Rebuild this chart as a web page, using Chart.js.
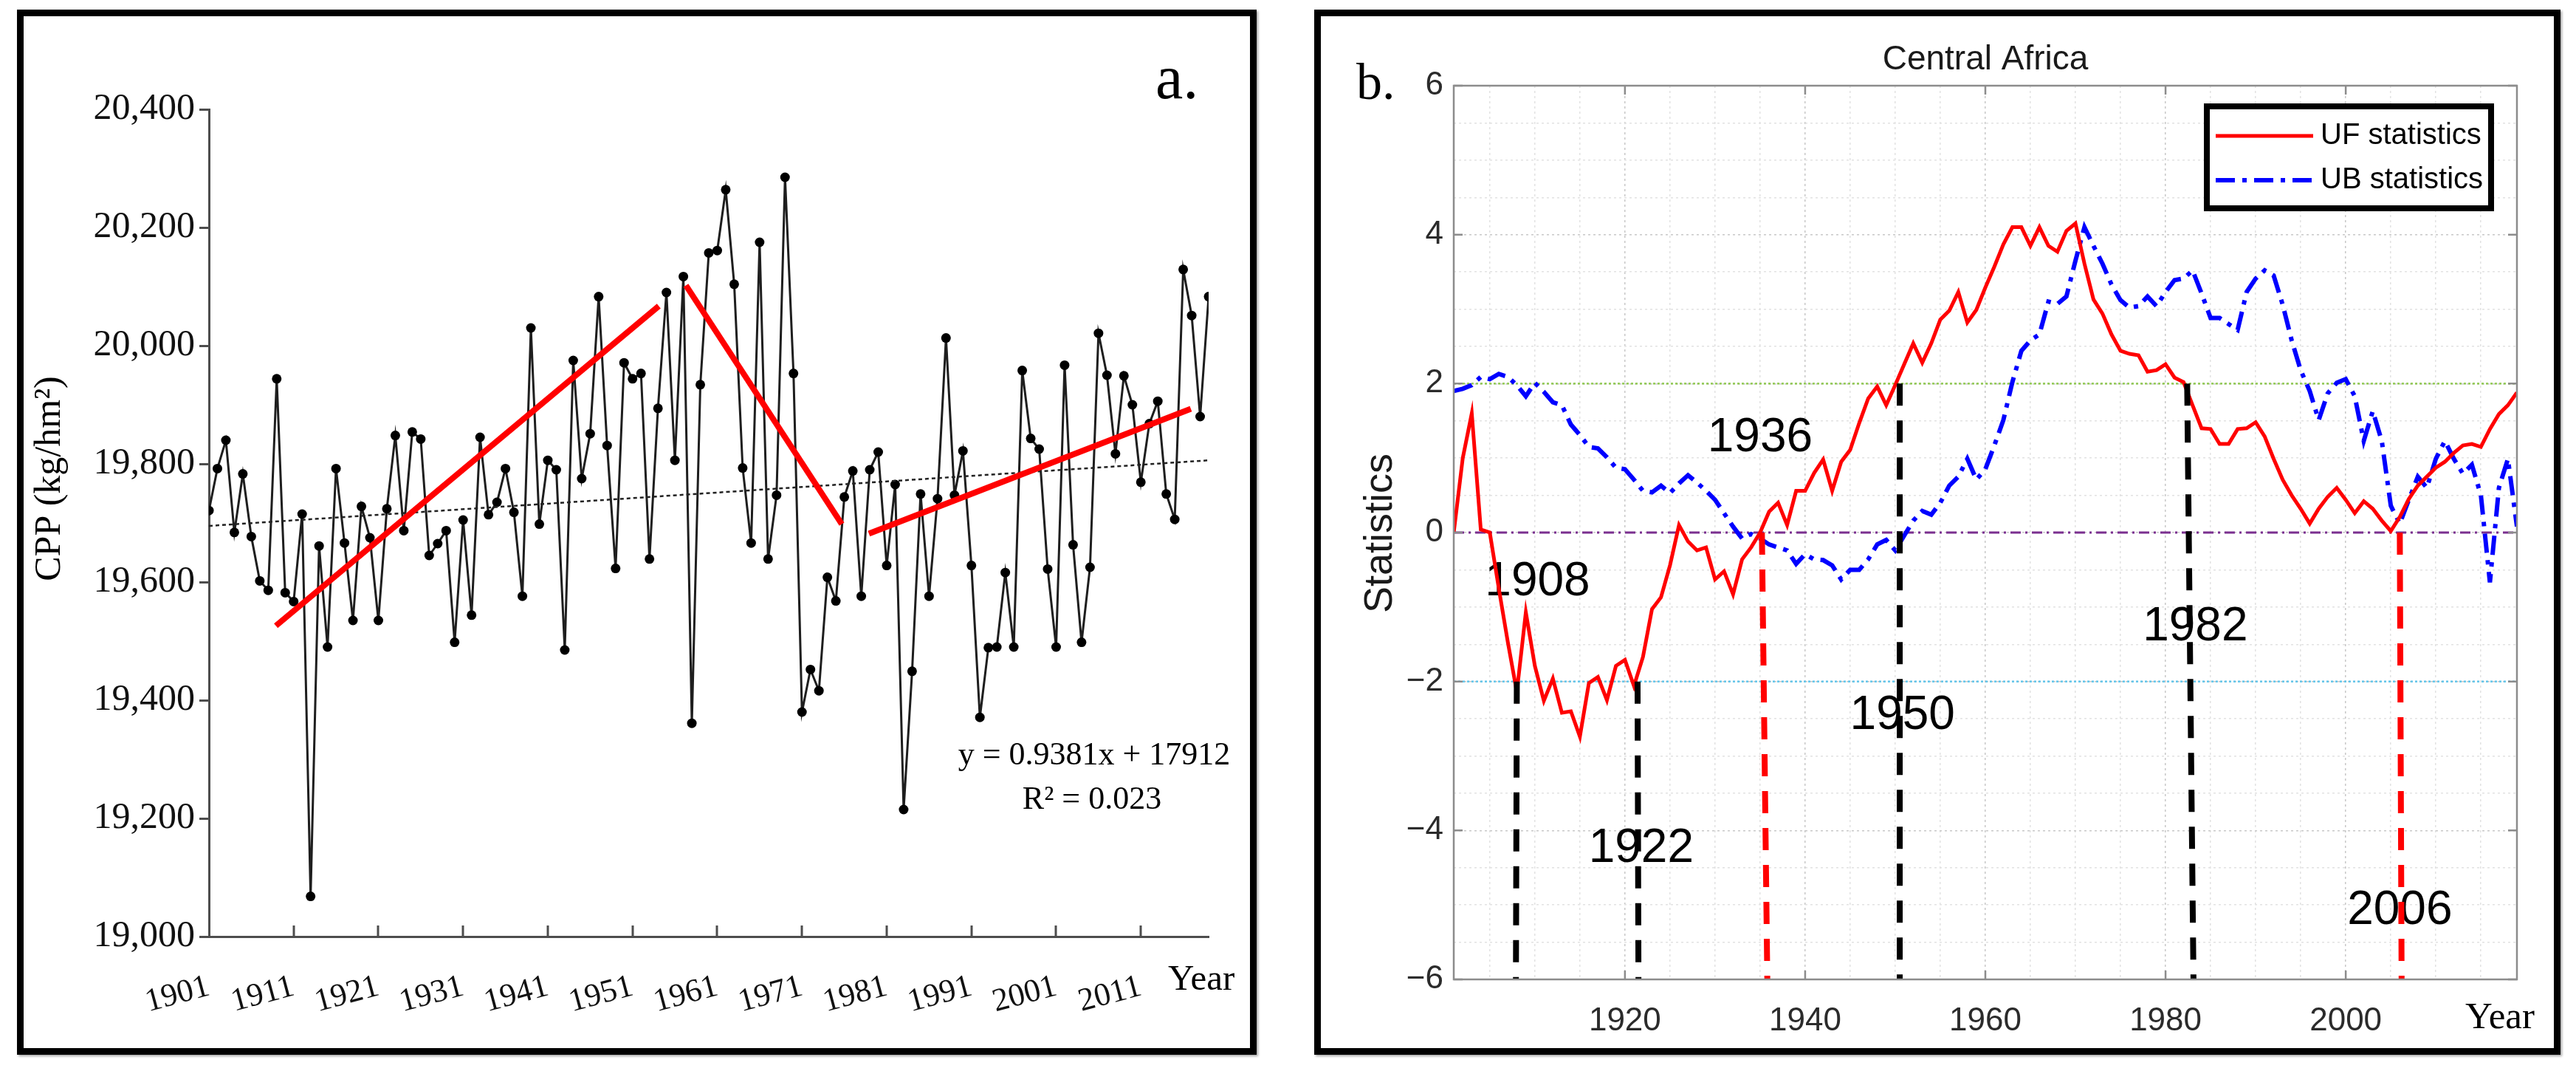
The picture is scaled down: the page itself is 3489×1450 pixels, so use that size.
<!DOCTYPE html>
<html>
<head>
<meta charset="utf-8">
<script src="https://cdn.jsdelivr.net/npm/chart.js@4.4.1/dist/chart.umd.min.js"></script>
<style>
html, body { margin: 0; padding: 0; background: #fff; }
body { width: 3489px; height: 1450px; position: relative; overflow: hidden; }
.panel { position: absolute; top: 13px; border: 9px solid #000; background: #fff; box-shadow: 2px 2px 3px rgba(0,0,0,0.35); }
#boxA { left: 23px; width: 1661px; height: 1397px; }
#boxB { left: 1780px; width: 1670px; height: 1397px; }
canvas { display: block; }
</style>
</head>
<body>
<div class="panel" id="boxA"><canvas id="chartA" width="1661" height="1397" style="width:1661px;height:1397px"></canvas></div>
<div class="panel" id="boxB"><canvas id="chartB" width="1670" height="1397" style="width:1670px;height:1397px"></canvas></div>
<script>
// ---- 数据 (a): 1901-2019 CPP ----
const firstYear = 1901;
const lastYear = 2019;
const years = Array.from({ length: lastYear - firstYear + 1 }, (_, i) => firstYear + i);

const cppValues = [
  19721, 19792, 19840, 19684, 19783, 19677, 19602, 19586, 19944, 19582,
  19567, 19715, 19068, 19661, 19490, 19792, 19666, 19535, 19728, 19675,
  19535, 19724, 19848, 19687, 19854, 19842, 19645, 19665, 19687, 19498,
  19705, 19544, 19845, 19714, 19735, 19792, 19718, 19576, 20030, 19698,
  19806, 19790, 19485, 19975, 19775, 19851, 20083, 19831, 19623, 19971,
  19944, 19953, 19639, 19894, 20090, 19806, 20117, 19361, 19934, 20157,
  20161, 20264, 20104, 19793, 19666, 20175, 19639, 19747, 20285, 19953,
  19380, 19452, 19416, 19608, 19568, 19744, 19788, 19576, 19790, 19820,
  19628, 19765, 19215, 19449, 19749, 19576, 19741, 20013, 19747, 19822,
  19628, 19371, 19489, 19490, 19616, 19490, 19958, 19843, 19825, 19622,
  19490, 19967, 19663, 19498, 19625, 20021, 19950, 19817, 19949, 19900,
  19769, 19868, 19906, 19749, 19706, 20129, 20051, 19880, 20083
];
const cppTrendYears = [1901, 2019];
const cppTrendValues = [19695, 19806];
// 分段趋势线 (红色)
const segStartYear = [1908.9, 1957.3, 1978.9];
const segStartValue = [19526, 20102, 19682];
const segEndYear = [1954.1, 1975.7, 2016.9];
const segEndValue = [20067, 19698, 19893];
const cppTickYears = [1901, 1911, 1921, 1931, 1941, 1951, 1961, 1971, 1981, 1991, 2001, 2011];
const cppTickValues = [19000, 19200, 19400, 19600, 19800, 20000, 20200, 20400];

// ---- 数据 (b): M-K 检验 ----
const ufValues = [
  0.00, 1.00, 1.60, 0.04, 0.00, -0.75, -1.47, -2.14, -1.07, -1.79,
  -2.26, -1.96, -2.42, -2.40, -2.74, -2.02, -1.94, -2.25, -1.79, -1.71,
  -2.06, -1.67, -1.03, -0.87, -0.44, 0.10, -0.12, -0.24, -0.20, -0.63,
  -0.52, -0.83, -0.36, -0.20, 0.00, 0.28, 0.40, 0.10, 0.56, 0.56,
  0.80, 0.98, 0.56, 0.95, 1.11, 1.47, 1.80, 1.96, 1.71, 1.98,
  2.26, 2.54, 2.28, 2.54, 2.86, 2.98, 3.23, 2.82, 2.99, 3.29,
  3.57, 3.87, 4.10, 4.10, 3.85, 4.10, 3.85, 3.77, 4.05, 4.15,
  3.61, 3.13, 2.94, 2.66, 2.44, 2.40, 2.38, 2.16, 2.18, 2.26,
  2.08, 2.02, 1.71, 1.40, 1.39, 1.19, 1.19, 1.39, 1.40, 1.48,
  1.29, 0.99, 0.71, 0.50, 0.32, 0.12, 0.32, 0.48, 0.60, 0.44,
  0.26, 0.42, 0.32, 0.16, 0.02, 0.21, 0.45, 0.63, 0.75, 0.87,
  0.95, 1.07, 1.17, 1.19, 1.15, 1.39, 1.59, 1.71, 1.88
];
const ubValues = [
  1.90, 1.93, 1.98, 2.09, 2.06, 2.13, 2.09, 1.98, 1.83, 2.01,
  1.89, 1.75, 1.71, 1.45, 1.31, 1.15, 1.13, 1.01, 0.87, 0.85,
  0.71, 0.56, 0.54, 0.63, 0.53, 0.66, 0.77, 0.67, 0.56, 0.44,
  0.26, 0.08, -0.08, -0.02, -0.08, -0.16, -0.20, -0.24, -0.42, -0.29,
  -0.36, -0.37, -0.44, -0.63, -0.50, -0.50, -0.36, -0.16, -0.10, -0.24,
  -0.04, 0.16, 0.29, 0.24, 0.40, 0.63, 0.75, 0.99, 0.71, 0.85,
  1.17, 1.51, 2.02, 2.44, 2.58, 2.66, 3.10, 3.07, 3.17, 3.65,
  4.10, 3.85, 3.61, 3.33, 3.12, 3.02, 3.04, 3.17, 3.04, 3.23,
  3.39, 3.41, 3.52, 3.21, 2.88, 2.88, 2.80, 2.72, 3.23, 3.41,
  3.52, 3.45, 3.06, 2.58, 2.18, 1.90, 1.51, 1.87, 2.01, 2.06,
  1.83, 1.23, 1.63, 1.23, 0.36, 0.12, 0.44, 0.75, 0.60, 0.99,
  1.23, 0.99, 0.79, 0.91, 0.50, -0.67, 0.60, 0.99, 0.08
];
const refLevels = [2, 0, -2];
// 突变点
const changeLabels = ['1908', '1922', '1936', '1950', '1982', '2006'];
const changeTopYear = [1908.0, 1921.4, 1935.2, 1950.5, 1982.4, 2006.0];
const changeBottomYear = [1907.9, 1921.5, 1935.8, 1950.5, 1983.1, 2006.2];
const changeTopValue = [-2, -2, 0, 2, 2, 0];
const changeLabelYear = [1910.3, 1921.8, 1935.0, 1950.8, 1983.3, 2006.0];
const changeLabelValue = [-0.67, -4.25, 1.27, -2.46, -1.27, -5.08];
const statTickYears = [1920, 1940, 1960, 1980, 2000];
const statTickValues = [-6, -4, -2, 0, 2, 4, 6];

// ---- 样式 ----
const SERIF = "'Liberation Serif', 'Times New Roman', serif";
const SANS = "'Liberation Sans', Arial, sans-serif";
const changeColors = ['#000', '#000', '#ff0000', '#000', '#000', '#ff0000'];
const refColors = ['#92c955', '#7a2f8f', '#63c5ea'];
const refDash = [[3, 3], [14, 6, 3, 6], [3, 3]];

// 通用文字插件
const panelText = {
  id: 'panelText',
  beforeDatasetsDraw(chart, args, opts) { drawTexts(chart, (opts.items || []).filter(t => t.under)); },
  afterDraw(chart, args, opts) { drawTexts(chart, (opts.items || []).filter(t => !t.under)); }
};
function drawTexts(chart, items) {
  const ctx = chart.ctx;
  const area = chart.chartArea;
  items.forEach(t => {
    let x, y;
    if (t.data) {
      x = chart.scales.x.getPixelForValue(t.data[0]);
      y = chart.scales.y.getPixelForValue(t.data[1]);
    } else {
      x = t.cx ? (area.left + area.right) / 2 : t.x;
      y = t.y;
    }
    ctx.save();
    ctx.font = t.font;
    ctx.fillStyle = t.color || '#000';
    ctx.textAlign = t.align || 'center';
    ctx.textBaseline = t.baseline || 'middle';
    ctx.translate(x, y);
    if (t.rotate) ctx.rotate(t.rotate);
    ctx.fillText(t.text, 0, 0);
    ctx.restore();
  });
}

// (a) x 轴向内刻度
const innerTicksA = {
  id: 'innerTicksA',
  afterDraw(chart) {
    const { ctx, chartArea } = chart;
    const xs = chart.scales.x;
    ctx.save();
    ctx.strokeStyle = '#4d4d4d';
    ctx.lineWidth = 3;
    cppTickYears.slice(1).forEach(v => {
      const px = Math.round(xs.getPixelForValue(v));
      ctx.beginPath();
      ctx.moveTo(px, chartArea.bottom);
      ctx.lineTo(px, chartArea.bottom - 15);
      ctx.stroke();
    });
    ctx.restore();
  }
};

// (b) 边框与刻度
const frameB = {
  id: 'frameB',
  afterDraw(chart) {
    const { ctx, chartArea: a } = chart;
    const xs = chart.scales.x, ys = chart.scales.y;
    ctx.save();
    ctx.strokeStyle = '#8c8c8c';
    ctx.lineWidth = 2.5;
    ctx.strokeRect(a.left, a.top, a.right - a.left, a.bottom - a.top);
    ctx.beginPath();
    statTickYears.forEach(v => {
      const px = xs.getPixelForValue(v);
      ctx.moveTo(px, a.bottom); ctx.lineTo(px, a.bottom - 12);
      ctx.moveTo(px, a.top); ctx.lineTo(px, a.top + 12);
    });
    statTickValues.forEach(v => {
      const py = ys.getPixelForValue(v);
      ctx.moveTo(a.left, py); ctx.lineTo(a.left + 12, py);
      ctx.moveTo(a.right, py); ctx.lineTo(a.right - 12, py);
    });
    ctx.stroke();
    ctx.restore();
  }
};

// (b) 图例
const legendB = {
  id: 'legendB',
  afterDraw(chart) {
    const { ctx, chartArea: a } = chart;
    const w = 393, h = 146;
    const x = a.right - 31 - w, y = a.top + 24;
    ctx.save();
    ctx.fillStyle = '#fff';
    ctx.fillRect(x, y, w, h);
    ctx.lineWidth = 8;
    ctx.strokeStyle = '#000';
    ctx.strokeRect(x + 4, y + 4, w - 8, h - 8);
    [0, 1].forEach((i, row) => {
      const ds = chart.data.datasets[i];
      const ly = y + 44 + row * 60;
      ctx.strokeStyle = ds.borderColor;
      ctx.lineWidth = ds.borderWidth;
      ctx.setLineDash(ds.borderDash || []);
      ctx.beginPath();
      ctx.moveTo(x + 16, ly);
      ctx.lineTo(x + 148, ly);
      ctx.stroke();
      ctx.setLineDash([]);
      ctx.fillStyle = '#000';
      ctx.font = '40px ' + SANS;
      ctx.textAlign = 'left';
      ctx.textBaseline = 'middle';
      ctx.fillText(ds.label, x + 158, ly);
    });
    ctx.restore();
  }
};

// ---- 图 (a) ----
const cppPoints = years.map((yr, i) => ({ x: yr, y: cppValues[i] }));
const segDatasets = segStartYear.map((s, i) => ({
  label: 'segment ' + (i + 1),
  data: [{ x: s, y: segStartValue[i] }, { x: segEndYear[i], y: segEndValue[i] }],
  borderColor: '#ff0000',
  borderWidth: 8,
  pointRadius: 0,
  order: 0
}));

new Chart(document.getElementById('chartA'), {
  type: 'line',
  data: {
    datasets: [
      ...segDatasets,
      {
        label: 'trend',
        data: cppTrendYears.map((yr, i) => ({ x: yr, y: cppTrendValues[i] })),
        borderColor: '#222',
        borderWidth: 2.5,
        borderDash: [5, 4],
        pointRadius: 0,
        order: 1
      },
      {
        label: 'CPP',
        data: cppPoints,
        borderColor: '#1e1e1e',
        borderWidth: 3,
        pointRadius: 6.5,
        pointBackgroundColor: '#000',
        pointBorderWidth: 0,
        tension: 0,
        order: 2
      }
    ]
  },
  options: {
    responsive: false,
    animation: false,
    devicePixelRatio: 1,
    events: [],
    layout: { padding: { top: 126, right: 56, left: 0, bottom: 0 } },
    scales: {
      x: {
        type: 'linear',
        min: firstYear,
        max: lastYear,
        afterBuildTicks: (scale) => { scale.ticks = cppTickYears.map(v => ({ value: v })); },
        afterFit: (scale) => { scale.height = 151; },
        grid: { display: false },
        border: { display: true, color: '#4d4d4d', width: 3 },
        ticks: {
          autoSkip: false,
          minRotation: 15,
          maxRotation: 15,
          padding: 34,
          color: '#111',
          font: { family: SERIF, size: 44 },
          callback: (v) => String(v)
        }
      },
      y: {
        min: 19000,
        max: 20400,
        afterBuildTicks: (scale) => { scale.ticks = cppTickValues.map(v => ({ value: v })); },
        afterFit: (scale) => { scale.width = 251; },
        grid: { display: true, drawOnChartArea: false, drawTicks: true, tickLength: 13, color: '#4d4d4d', lineWidth: 3 },
        border: { display: true, color: '#4d4d4d', width: 3 },
        ticks: {
          padding: 6,
          color: '#111',
          font: { family: SERIF, size: 50 },
          callback: (v) => v.toLocaleString('en-US')
        }
      }
    },
    plugins: {
      legend: { display: false },
      tooltip: { enabled: false },
      panelText: {
        items: [
          { text: 'a.', x: 1533, y: 111, align: 'left', baseline: 'alphabetic', font: '84px ' + SERIF },
          { text: 'CPP (kg/hm\u00b2)', x: 36, y: 626, rotate: -Math.PI / 2, font: '50px ' + SERIF },
          { text: 'Year', x: 1550, y: 1318, align: 'left', baseline: 'alphabetic', font: '49px ' + SERIF },
          { text: 'y = 0.9381x + 17912', x: 1450, y: 1001, font: '44px ' + SERIF },
          { text: 'R\u00b2 = 0.023', x: 1447, y: 1061, font: '44px ' + SERIF }
        ]
      }
    }
  },
  plugins: [panelText, innerTicksA]
});

// ---- 图 (b) ----
const toPoints = (vals) => years.map((yr, i) => ({ x: yr, y: vals[i] }));
const refDatasets = refLevels.map((lv, i) => ({
  label: 'ref ' + lv,
  data: [{ x: firstYear, y: lv }, { x: lastYear, y: lv }],
  borderColor: refColors[i],
  borderWidth: i === 1 ? 3 : 2.5,
  borderDash: refDash[i],
  pointRadius: 0,
  order: 5
}));
const changeDatasets = changeLabels.map((lb, i) => ({
  label: 'change ' + lb,
  data: [{ x: changeTopYear[i], y: changeTopValue[i] }, { x: changeBottomYear[i], y: -6 }],
  borderColor: changeColors[i],
  borderWidth: 8,
  borderDash: [30, 20],
  pointRadius: 0,
  order: 0
}));

new Chart(document.getElementById('chartB'), {
  type: 'line',
  data: {
    datasets: [
      {
        label: 'UF statistics',
        data: toPoints(ufValues),
        borderColor: '#ff0000',
        borderWidth: 5,
        pointRadius: 0,
        tension: 0,
        order: 2
      },
      {
        label: 'UB statistics',
        data: toPoints(ubValues),
        borderColor: '#0000ff',
        borderWidth: 6,
        borderDash: [26, 10, 6, 10],
        pointRadius: 0,
        tension: 0,
        order: 3
      },
      ...refDatasets,
      ...changeDatasets
    ]
  },
  options: {
    responsive: false,
    animation: false,
    devicePixelRatio: 1,
    events: [],
    layout: { padding: { top: 94, right: 50, left: 0, bottom: 0 } },
    scales: {
      x: {
        type: 'linear',
        min: firstYear,
        max: lastYear,
        afterBuildTicks: (scale) => {
          const t = [];
          for (let v = 1905; v <= 2015; v += 5) t.push({ value: v });
          scale.ticks = t;
        },
        afterFit: (scale) => { scale.height = 93; },
        grid: {
          drawTicks: false,
          lineWidth: 1.5,
          color: (c) => (c.tick && statTickYears.includes(c.tick.value)) ? '#c8c8c8' : '#e2e2e2'
        },
        border: { display: false, dash: [3, 4] },
        ticks: {
          autoSkip: false,
          maxRotation: 0,
          padding: 30,
          color: '#2b2b2b',
          font: { family: SANS, size: 44 },
          callback: (v) => statTickYears.includes(v) ? String(v) : ''
        }
      },
      y: {
        min: -6,
        max: 6,
        afterBuildTicks: (scale) => {
          const t = [];
          for (let v = -6; v <= 6; v += 0.5) t.push({ value: v });
          scale.ticks = t;
        },
        afterFit: (scale) => { scale.width = 180; },
        grid: {
          drawTicks: false,
          lineWidth: 1.5,
          color: (c) => (c.tick && statTickValues.includes(c.tick.value)) ? '#c8c8c8' : '#e2e2e2'
        },
        border: { display: false, dash: [3, 4] },
        ticks: {
          autoSkip: false,
          padding: 14,
          color: '#2b2b2b',
          font: { family: SANS, size: 44 },
          callback: (v) => statTickValues.includes(v) ? (v < 0 ? '\u2212' + Math.abs(v) : String(v)) : ''
        }
      }
    },
    plugins: {
      legend: { display: false },
      tooltip: { enabled: false },
      panelText: {
        items: [
          { text: 'Central Africa', cx: true, y: 59, font: '46px ' + SANS, color: '#1a1a1a' },
          { text: 'b.', x: 48, y: 112, align: 'left', baseline: 'alphabetic', font: '70px ' + SERIF },
          { text: 'Statistics', x: 81, y: 700, rotate: -Math.PI / 2, font: '54px ' + SANS, color: '#1a1a1a' },
          { text: 'Year', x: 1550, y: 1370, align: 'left', baseline: 'alphabetic', font: '51px ' + SERIF },
          ...changeLabels.map((lb, i) => ({
            text: lb, data: [changeLabelYear[i], changeLabelValue[i]], under: true, font: '64px ' + SANS
          }))
        ]
      }
    }
  },
  plugins: [panelText, frameB, legendB]
});
</script>
</body>
</html>
